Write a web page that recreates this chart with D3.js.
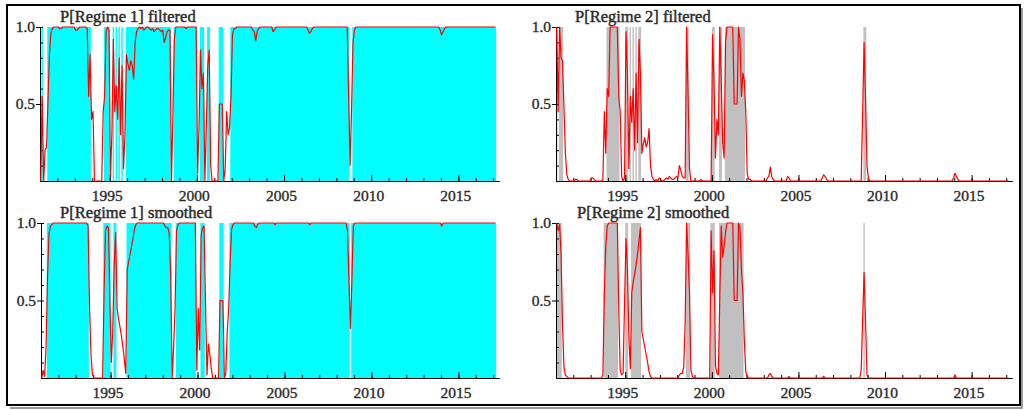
<!DOCTYPE html>
<meta charset="utf-8">

<!-- Load d3.js -->
<script src="https://d3js.org/d3.v7.min.js"></script>

<style>
  body { margin: 0; background: #fff; }
  text { font-family: "Liberation Serif", "Times New Roman", serif; fill: #2b2b2b; stroke: #2b2b2b; stroke-width: 0.35px; }
  .tick text { font-size: 15.5px; }
  .title { font-size: 16.5px; stroke-width: 0.45px; }
</style>

<!-- Create a div where the graph will take place -->
<div id="my_dataviz"></div>

<script>

// monthly observations, the first one is January 1991
var firstYear = 1991;
var axisEnd = 2017 + 4 / 12;

// tick labels
var labelYears = [1995, 2000, 2005, 2010, 2015];
var minorYears = [1992, 1993, 1994, 1995, 1996, 1997, 1998, 1999, 2000, 2001, 2002, 2003, 2004,
                  2005, 2006, 2007, 2008, 2009, 2010, 2011, 2012, 2013, 2014, 2015, 2016, 2017];
var probLabels = [0.5, 1.0];
var probMinor = [0.1, 0.2, 0.3, 0.4, 0.5, 0.6, 0.7, 0.8, 0.9, 1.0];

var titles = ["P[Regime 1] filtered", "P[Regime 2] filtered",
              "P[Regime 1] smoothed", "P[Regime 2] smoothed"];

// P[Regime 1] filtered, one row per year
var p1Filtered = [
  0.00, 0.55, 0.00, 0.20, 0.22, 0.52, 0.82, 0.96, 0.99, 1.00, 1.00, 1.00,
  1.00, 0.99, 0.99, 1.00, 1.00, 1.00, 1.00, 1.00, 1.00, 1.00, 1.00, 1.00,
  0.98, 0.98, 0.99, 1.00, 1.00, 1.00, 1.00, 1.00, 0.99, 0.55, 0.82, 0.40,
  0.45, 0.00, 0.00, 0.00, 0.00, 0.00, 0.00, 0.45, 0.55, 0.97, 1.00, 0.98,
  0.03, 0.30, 0.92, 0.45, 0.62, 0.40, 0.80, 0.30, 0.75, 0.08, 0.30, 0.82,
  0.76, 0.72, 0.78, 0.75, 0.66, 0.90, 0.97, 0.99, 1.00, 0.99, 1.00, 0.98,
  0.99, 1.00, 1.00, 0.99, 0.98, 0.99, 0.97, 0.98, 0.99, 0.99, 0.98, 0.97,
  0.98, 0.90, 0.93, 0.97, 0.98, 0.98, 0.00, 0.42, 0.92, 1.00, 1.00, 1.00,
  1.00, 1.00, 1.00, 1.00, 0.99, 1.00, 1.00, 1.00, 1.00, 1.00, 1.00, 1.00,
  0.05, 0.35, 0.85, 0.60, 0.70, 0.00, 0.35, 0.75, 0.85, 0.10, 0.00, 0.00,
  0.00, 0.00, 0.00, 0.50, 0.50, 0.50, 0.00, 0.08, 0.45, 0.30, 0.35, 0.55,
  0.95, 0.99, 0.99, 1.00, 1.00, 1.00, 1.00, 1.00, 1.00, 1.00, 1.00, 1.00,
  1.00, 1.00, 0.98, 0.97, 0.91, 0.97, 0.99, 1.00, 1.00, 1.00, 1.00, 1.00,
  1.00, 1.00, 1.00, 1.00, 0.97, 0.98, 1.00, 1.00, 1.00, 1.00, 1.00, 1.00,
  1.00, 1.00, 1.00, 1.00, 1.00, 1.00, 1.00, 1.00, 1.00, 1.00, 1.00, 1.00,
  1.00, 1.00, 1.00, 1.00, 0.98, 0.96, 0.97, 0.99, 1.00, 1.00, 1.00, 1.00,
  1.00, 1.00, 1.00, 1.00, 1.00, 1.00, 1.00, 1.00, 1.00, 1.00, 1.00, 1.00,
  1.00, 1.00, 1.00, 1.00, 1.00, 1.00, 1.00, 1.00, 0.55, 0.10, 0.47, 0.90,
  0.98, 1.00, 1.00, 1.00, 1.00, 1.00, 1.00, 1.00, 1.00, 1.00, 1.00, 1.00,
  1.00, 1.00, 1.00, 1.00, 1.00, 1.00, 1.00, 1.00, 1.00, 1.00, 1.00, 1.00,
  1.00, 1.00, 1.00, 1.00, 1.00, 1.00, 1.00, 1.00, 1.00, 1.00, 1.00, 1.00,
  1.00, 1.00, 1.00, 1.00, 1.00, 1.00, 1.00, 1.00, 1.00, 1.00, 1.00, 1.00,
  1.00, 1.00, 1.00, 1.00, 1.00, 1.00, 1.00, 1.00, 1.00, 1.00, 1.00, 0.98,
  0.95, 0.97, 0.99, 1.00, 1.00, 1.00, 1.00, 1.00, 1.00, 1.00, 1.00, 1.00,
  1.00, 1.00, 1.00, 1.00, 1.00, 1.00, 1.00, 1.00, 1.00, 1.00, 1.00, 1.00,
  1.00, 1.00, 1.00, 1.00, 1.00, 1.00, 1.00, 1.00, 1.00, 1.00, 1.00, 1.00,
  1.00, 1.00
];

// P[Regime 1] smoothed, one row per year
var p1Smoothed = [
  0.00, 0.05, 0.01, 0.20, 0.65, 0.93, 0.98, 0.99, 1.00, 1.00, 1.00, 1.00,
  1.00, 1.00, 1.00, 1.00, 1.00, 1.00, 1.00, 1.00, 1.00, 1.00, 1.00, 1.00,
  1.00, 1.00, 1.00, 1.00, 1.00, 1.00, 1.00, 1.00, 0.98, 0.45, 0.15, 0.02,
  0.00, 0.00, 0.00, 0.00, 0.00, 0.00, 0.00, 0.55, 0.95, 0.98, 0.97, 0.52,
  0.10, 0.30, 0.73, 0.94, 0.45, 0.38, 0.33, 0.27, 0.20, 0.12, 0.03, 0.70,
  0.75, 0.80, 0.85, 0.90, 0.96, 0.99, 1.00, 1.00, 1.00, 1.00, 1.00, 1.00,
  1.00, 1.00, 1.00, 1.00, 1.00, 1.00, 1.00, 1.00, 1.00, 1.00, 1.00, 1.00,
  1.00, 0.98, 0.97, 0.97, 0.93, 0.65, 0.00, 0.20, 0.45, 0.95, 0.99, 1.00,
  1.00, 1.00, 1.00, 1.00, 1.00, 1.00, 1.00, 1.00, 1.00, 1.00, 1.00, 0.05,
  0.45, 0.18, 0.92, 0.97, 0.98, 0.48, 0.02, 0.22, 0.15, 0.06, 0.00, 0.00,
  0.00, 0.00, 0.00, 0.50, 0.50, 0.50, 0.00, 0.03, 0.30, 0.45, 0.75, 0.96,
  0.99, 1.00, 1.00, 1.00, 1.00, 1.00, 1.00, 1.00, 1.00, 1.00, 1.00, 1.00,
  1.00, 1.00, 1.00, 0.98, 0.97, 0.99, 1.00, 1.00, 1.00, 1.00, 1.00, 1.00,
  1.00, 1.00, 1.00, 1.00, 1.00, 0.99, 1.00, 1.00, 1.00, 1.00, 1.00, 1.00,
  1.00, 1.00, 1.00, 1.00, 1.00, 1.00, 1.00, 1.00, 1.00, 1.00, 1.00, 1.00,
  1.00, 1.00, 1.00, 1.00, 1.00, 0.99, 1.00, 1.00, 1.00, 1.00, 1.00, 1.00,
  1.00, 1.00, 1.00, 1.00, 1.00, 1.00, 1.00, 1.00, 1.00, 1.00, 1.00, 1.00,
  1.00, 1.00, 1.00, 1.00, 1.00, 1.00, 1.00, 0.95, 0.62, 0.32, 0.63, 0.98,
  1.00, 1.00, 1.00, 1.00, 1.00, 1.00, 1.00, 1.00, 1.00, 1.00, 1.00, 1.00,
  1.00, 1.00, 1.00, 1.00, 1.00, 1.00, 1.00, 1.00, 1.00, 1.00, 1.00, 1.00,
  1.00, 1.00, 1.00, 1.00, 1.00, 1.00, 1.00, 1.00, 1.00, 1.00, 1.00, 1.00,
  1.00, 1.00, 1.00, 1.00, 1.00, 1.00, 1.00, 1.00, 1.00, 1.00, 1.00, 1.00,
  1.00, 1.00, 1.00, 1.00, 1.00, 1.00, 1.00, 1.00, 1.00, 1.00, 1.00, 1.00,
  0.98, 1.00, 1.00, 1.00, 1.00, 1.00, 1.00, 1.00, 1.00, 1.00, 1.00, 1.00,
  1.00, 1.00, 1.00, 1.00, 1.00, 1.00, 1.00, 1.00, 1.00, 1.00, 1.00, 1.00,
  1.00, 1.00, 1.00, 1.00, 1.00, 1.00, 1.00, 1.00, 1.00, 1.00, 1.00, 1.00,
  1.00, 1.00
];

// two regimes: P[Regime 2] = 1 - P[Regime 1]
function complement(arr) { return arr.map(function(v) { return 1 - v; }); }

var panels = [
  { title: titles[0], values: p1Filtered,             fill: "#00ffff", left: 40,  right: 499,  top: 27,  bottom: 181, titleX: 60 },
  { title: titles[1], values: complement(p1Filtered), fill: "#c0c0c0", left: 556, right: 1012, top: 27,  bottom: 181, titleX: 575 },
  { title: titles[2], values: p1Smoothed,             fill: "#00ffff", left: 41,  right: 499,  top: 223, bottom: 378, titleX: 60 },
  { title: titles[3], values: complement(p1Smoothed), fill: "#c0c0c0", left: 556, right: 1012, top: 223, bottom: 378, titleX: 577 }
];

var svg = d3.select("#my_dataviz")
  .append("svg")
    .attr("width", 1027)
    .attr("height", 410);

svg.append("rect")
  .attr("width", 1027).attr("height", 410).attr("fill", "#fff");

// outer frame with a small shadow
svg.append("path")
  .attr("d", "M1022,8 V408 H10")
  .attr("fill", "none").attr("stroke", "#777").attr("stroke-width", 1.5);
svg.append("rect")
  .attr("x", 7).attr("y", 5).attr("width", 1013).attr("height", 400)
  .attr("fill", "none").attr("stroke", "#000").attr("stroke-width", 2);

// months where the regime is the more likely one
function regimeRuns(vals) {
  var out = [], start = null;
  vals.forEach(function(v, i) {
    if (v >= 0.5 && start === null) start = i;
    if (v < 0.5 && start !== null) { out.push([start, i]); start = null; }
  });
  if (start !== null) out.push([start, vals.length]);
  return out;
}

function monthTime(i) { return firstYear + i / 12; }

panels.forEach(function(p) {

  var x = d3.scaleLinear()
    .domain([firstYear, axisEnd])
    .range([p.left, p.right]);

  var y = d3.scaleLinear()
    .domain([0, 1])
    .range([p.bottom, p.top]);

  var g = svg.append("g");

  // regime shading
  g.append("g")
    .selectAll("rect")
    .data(regimeRuns(p.values))
    .enter().append("rect")
      .attr("x", function(d) { return x(monthTime(d[0])); })
      .attr("width", function(d) { return x(monthTime(d[1])) - x(monthTime(d[0])); })
      .attr("y", y(1))
      .attr("height", y(0) - y(1))
      .attr("fill", p.fill);

  // x axis: yearly minor ticks, labelled major ticks, pointing inwards
  g.append("g")
    .attr("transform", "translate(0," + p.bottom + ")")
    .call(d3.axisBottom(x).tickValues(minorYears).tickSize(-3).tickSizeOuter(0).tickFormat(""));

  var xa = g.append("g")
    .attr("transform", "translate(0," + p.bottom + ")")
    .call(d3.axisBottom(x).tickValues(labelYears).tickSize(-6).tickSizeOuter(0)
      .tickPadding(9).tickFormat(d3.format("d")));
  xa.selectAll("text").attr("x", -3);

  // y axis
  g.append("g")
    .attr("transform", "translate(" + p.left + ",0)")
    .call(d3.axisLeft(y).tickValues(probMinor).tickSize(-3).tickSizeOuter(0).tickFormat(""));

  g.append("g")
    .attr("transform", "translate(" + p.left + ",0)")
    .call(d3.axisLeft(y).tickValues(probLabels).tickSize(4).tickSizeOuter(0)
      .tickPadding(1).tickFormat(d3.format(".1f")));

  g.selectAll(".domain, .tick line").attr("stroke", "#000");

  // probability line
  var line = d3.line()
    .x(function(d, i) { return x(monthTime(i) + 1 / 24); })
    .y(function(d) { return y(d); });

  g.append("path")
    .datum(p.values)
    .attr("fill", "none")
    .attr("stroke", "#ff0000")
    .attr("stroke-width", 1.2)
    .attr("stroke-linejoin", "round")
    .attr("d", line);

  g.append("text")
    .attr("class", "title")
    .attr("x", p.titleX)
    .attr("y", p.top - 5)
    .text(p.title);
});

</script>
